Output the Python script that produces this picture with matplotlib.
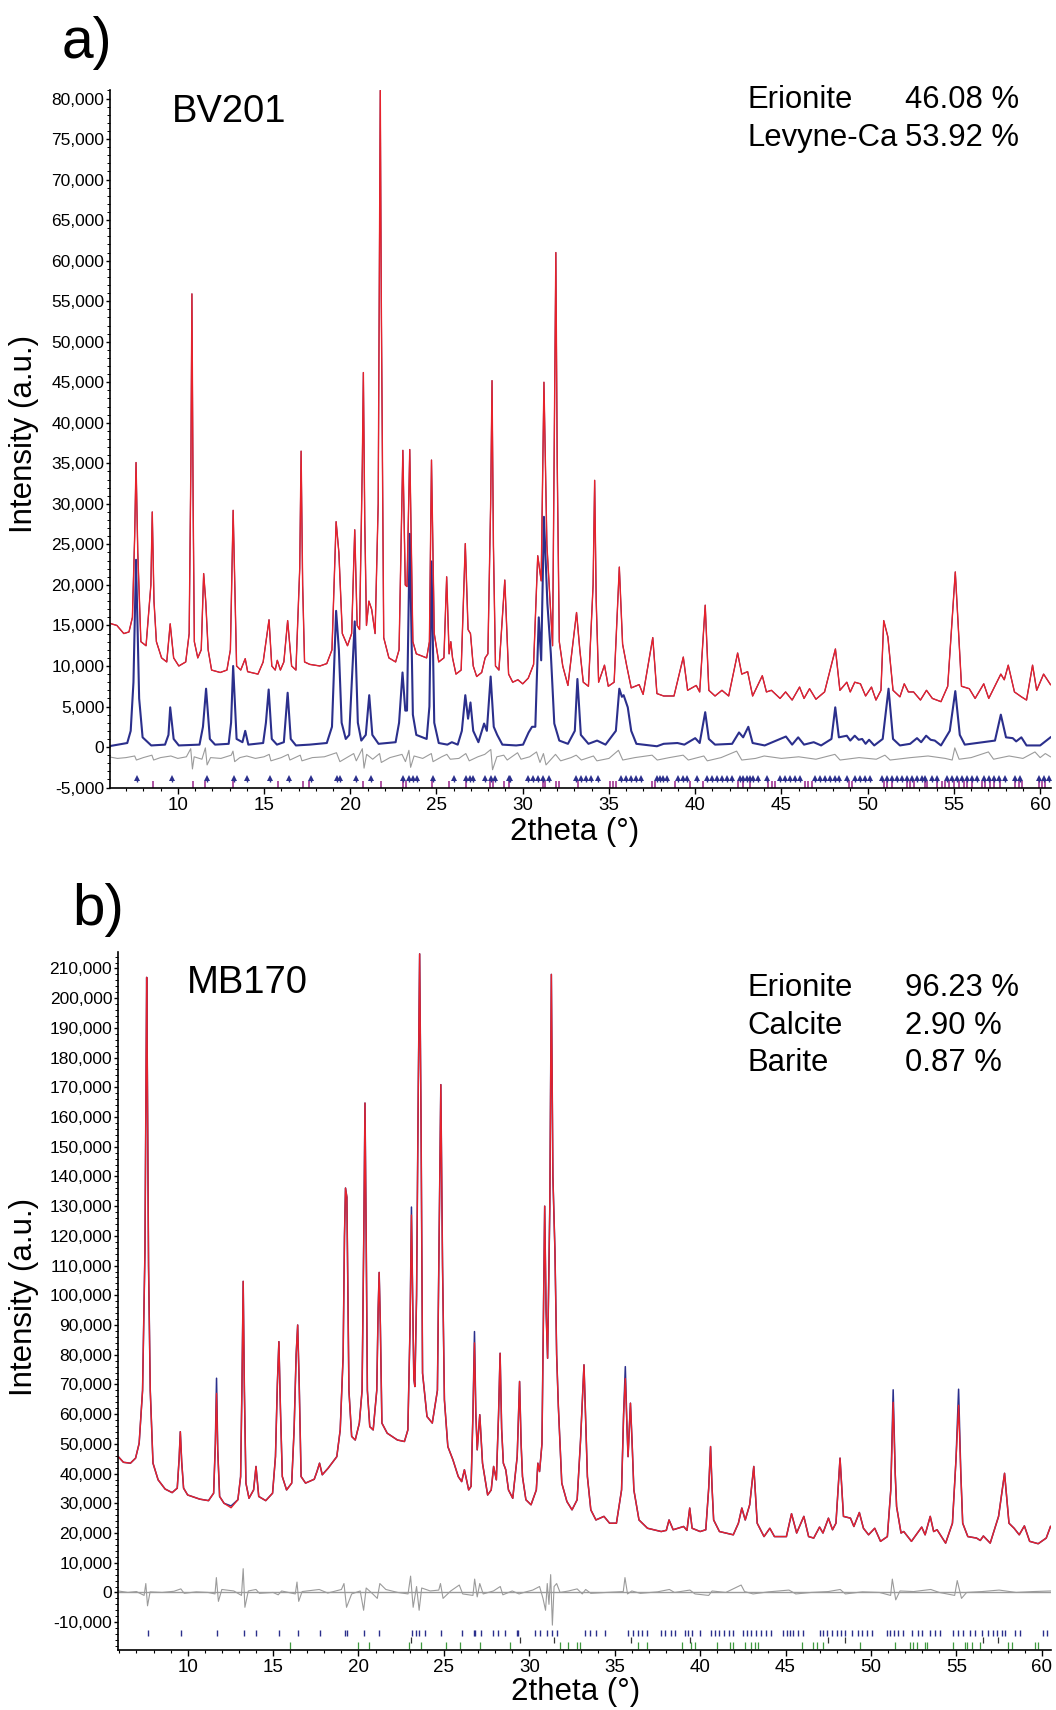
# Rietveld plots for BV201 (a) and MB170 (b)

import matplotlib.pyplot as plt
import numpy as np
from matplotlib.ticker import MultipleLocator, FuncFormatter

plt.rcParams['font.family'] = ['Liberation Sans', 'DejaVu Sans']

# ---- panel a) BV201, intensities in thousands ----
a_fit = [(6.00,15.3),(6.47,15.0),(6.87,14.0),(7.17,14.2),(7.37,16.0),(7.50,26.0),(7.58,35.1),(7.68,24.0),(7.86,13.0),
         (8.16,12.5),(8.44,20.0),(8.52,29.0),(8.62,18.0),(8.76,13.0),(9.06,11.0),(9.36,10.5),(9.56,15.2),(9.76,11.0),
         (10.06,10.0),(10.46,10.5),(10.66,14.0),(10.76,35.0),(10.82,55.9),(10.89,30.0),(10.96,13.0),(11.16,11.0),
         (11.36,12.0),(11.50,21.4),(11.62,18.0),(11.76,12.0),(11.96,9.5),(12.46,9.2),(12.85,9.5),(13.05,12.0),
         (13.21,29.2),(13.41,10.0),(13.65,9.5),(13.91,10.9),(14.05,9.3),(14.65,9.0),(14.95,10.5),(15.29,15.7),
         (15.45,10.0),(15.65,9.5),(15.77,10.7),(15.95,9.5),(16.15,10.5),(16.37,15.6),(16.60,10.0),(16.85,9.5),
         (17.07,22.0),(17.15,36.5),(17.24,20.0),(17.35,10.5),(17.65,10.2),(18.24,10.0),(18.64,10.3),(18.94,12.0),
         (19.18,27.8),(19.34,24.0),(19.54,14.0),(19.84,12.5),(20.08,14.0),(20.26,26.8),(20.40,15.0),(20.54,14.5),
         (20.70,35.0),(20.76,46.2),(20.84,28.0),(20.94,15.0),(21.08,18.0),(21.24,17.0),(21.44,14.0),(21.62,30.0),
         (21.70,65.0),(21.74,81.0),(21.80,55.0),(21.94,13.5),(22.24,11.0),(22.63,10.5),(22.83,12.0),(23.05,36.6),
         (23.19,20.0),(23.29,19.8),(23.45,36.7),(23.63,13.0),(23.83,11.5),(24.43,11.0),(24.59,13.0),(24.71,35.4),
         (24.87,14.0),(25.13,10.5),(25.43,11.0),(25.59,21.0),(25.73,11.5),(25.83,13.0),(25.93,11.0),(26.13,9.0),
         (26.43,9.5),(26.67,25.1),(26.83,14.5),(26.97,14.0),(27.13,10.0),(27.33,8.7),(27.62,9.2),(27.82,11.0),
         (27.98,11.5),(28.14,30.0),(28.22,45.2),(28.30,25.0),(28.42,10.0),(28.62,9.5),(28.96,20.6),(29.18,9.0),
         (29.42,8.0),(29.72,8.3),(30.00,7.8),(30.32,8.5),(30.63,10.2),(30.87,23.6),(31.07,20.5),(31.23,45.0),
         (31.40,25.0),(31.73,12.5),(31.84,40.0),(31.92,61.0),(32.00,35.0),(32.12,13.0),(32.32,10.0),(32.62,7.6),
         (33.12,16.6),(33.31,12.0),(33.51,8.0),(33.81,7.5),(34.08,20.0),(34.17,32.9),(34.26,18.0),(34.40,8.0),
         (34.74,10.1),(34.96,7.5),(35.30,8.0),(35.60,22.2),(35.79,12.7),(36.03,10.0),(36.29,7.3),(36.75,7.7),
         (36.98,6.5),(37.54,13.5),(37.78,6.6),(38.17,6.3),(38.77,6.3),(39.31,11.1),(39.56,7.0),(40.06,7.6),
         (40.26,6.8),(40.58,17.5),(40.79,7.0),(41.15,6.3),(41.55,7.0),(41.94,6.3),(42.46,11.6),(42.70,9.0),
         (43.04,9.3),(43.33,6.3),(43.89,8.8),(44.13,6.8),(44.42,7.0),(44.92,6.0),(45.24,6.8),(45.62,5.8),
         (46.05,7.4),(46.31,6.0),(46.63,7.2),(47.00,5.9),(47.50,6.8),(48.13,12.1),(48.39,7.0),(48.79,8.0),
         (48.99,6.8),(49.25,8.0),(49.58,7.8),(49.88,6.3),(50.22,7.4),(50.48,5.8),(50.77,7.0),(50.93,15.6),
         (51.17,13.6),(51.47,7.0),(51.87,6.2),(52.12,7.8),(52.36,6.8),(52.66,6.8),(53.06,5.8),(53.41,7.0),
         (53.75,6.0),(54.25,5.6),(54.64,7.5),(55.08,21.6),(55.44,7.5),(55.89,7.2),(56.23,6.0),(56.73,7.8),
         (57.02,6.0),(57.72,9.0),(57.92,8.3),(58.15,10.1),(58.51,6.8),(58.91,6.2),(59.21,5.8),(59.56,10.1),
         (59.80,7.0),(60.20,9.0),(60.60,7.7)]

a_phase = [(6.00,0.1),(7.07,0.5),(7.27,2.0),(7.43,8.0),(7.58,23.1),(7.76,6.0),(7.96,1.2),(8.46,0.2),(9.26,0.3),
           (9.46,1.5),(9.56,4.9),(9.76,1.0),(10.06,0.2),(11.26,0.3),(11.46,2.5),(11.64,7.2),(11.86,1.0),(12.16,0.3),
           (12.95,0.4),(13.09,3.0),(13.21,10.0),(13.41,1.0),(13.75,0.6),(13.91,2.0),(14.09,0.3),(14.95,0.5),
           (15.11,3.0),(15.27,7.1),(15.45,1.0),(15.75,0.3),(16.15,0.6),(16.37,6.7),(16.55,1.0),(16.85,0.2),
           (17.64,0.3),(18.64,0.5),(18.94,2.5),(19.18,16.8),(19.34,12.0),(19.50,3.0),(19.74,1.0),(19.94,1.5),
           (20.26,15.5),(20.44,3.0),(20.64,0.8),(20.90,1.5),(21.10,6.4),(21.28,1.5),(21.64,0.4),(22.63,0.6),
           (22.83,3.0),(23.03,9.2),(23.19,4.5),(23.29,4.5),(23.45,26.3),(23.63,4.0),(23.83,1.5),(24.43,1.0),
           (24.59,5.0),(24.71,22.9),(24.87,3.0),(25.13,0.5),(25.63,0.3),(25.89,0.6),(26.23,0.3),(26.47,2.0),
           (26.67,6.4),(26.83,3.5),(26.97,5.5),(27.13,2.0),(27.43,0.6),(27.76,2.9),(27.92,2.0),(28.14,8.7),
           (28.32,2.5),(28.52,1.5),(28.82,0.3),(29.62,0.2),(30.02,0.3),(30.34,1.8),(30.54,2.5),(30.73,2.5),
           (30.93,16.0),(31.07,10.7),(31.23,28.4),(31.43,17.7),(31.63,11.5),(31.83,2.9),(32.12,0.8),(32.62,0.4),
           (33.02,2.0),(33.17,8.4),(33.37,1.5),(33.81,0.4),(34.31,0.8),(34.80,0.3),(35.40,2.0),(35.60,7.2),
           (35.75,6.2),(35.85,6.4),(36.09,4.9),(36.29,2.0),(36.59,0.4),(37.78,0.1),(38.17,0.4),(38.97,0.5),
           (39.37,0.3),(40.00,1.1),(40.26,0.5),(40.58,4.3),(40.79,1.0),(41.15,0.3),(42.14,0.4),(42.54,1.8),
           (42.78,1.2),(43.08,2.5),(43.33,0.5),(44.03,0.2),(45.26,1.3),(45.62,0.3),(45.97,1.2),(46.31,0.3),
           (46.87,0.6),(47.30,0.2),(47.90,1.0),(48.12,4.9),(48.33,1.2),(48.79,1.4),(48.99,0.8),(49.25,1.4),
           (49.48,0.9),(49.68,1.0),(49.88,0.4),(50.08,0.9),(50.38,0.2),(50.87,1.0),(51.21,7.2),(51.47,1.0),
           (51.87,0.2),(52.46,0.4),(52.86,1.1),(53.10,0.6),(53.39,1.4),(53.65,0.9),(53.89,0.8),(54.25,0.2),
           (54.76,2.0),(55.08,6.9),(55.34,1.5),(55.63,0.3),(57.38,0.8),(57.72,4.0),(58.02,1.2),(58.41,1.1),
           (58.61,0.7),(58.91,1.2),(59.21,0.2),(60.00,0.2),(60.60,1.2)]

a_diff = [(6.0,-1.2),(6.5,-1.4),(7.0,-1.3),(7.5,-1.1),(7.6,-1.6),(8.0,-1.3),(8.5,-1.0),(8.6,-1.6),(9.0,-1.3),
          (9.6,-1.1),(10.0,-1.4),(10.5,-1.2),(10.75,-0.2),(10.85,-2.7),(10.95,-1.2),(11.4,-1.5),(11.6,-0.1),
          (11.7,-2.2),(11.9,-1.3),(12.5,-1.4),(13.1,-1.0),(13.2,-0.5),(13.3,-1.8),(13.6,-1.3),(14.0,-1.1),
          (14.5,-1.4),(15.0,-1.2),(15.3,-0.9),(15.4,-1.7),(16.0,-1.3),(16.4,-0.9),(16.5,-1.6),(17.1,-1.0),
          (17.2,-1.7),(17.8,-1.3),(18.5,-1.2),(19.2,-0.7),(19.4,-1.8),(19.8,-1.3),(20.2,-0.8),(20.35,-1.7),
          (20.7,-0.2),(20.8,-2.6),(20.95,-0.9),(21.3,-1.5),(21.7,-0.8),(21.8,-1.9),(22.3,-1.3),(23.0,-0.9),
          (23.2,-1.8),(23.4,-0.4),(23.5,-2.5),(23.7,-1.1),(24.2,-1.4),(24.7,-0.8),(24.8,-1.8),(25.3,-1.2),
          (25.6,-0.9),(25.8,-1.5),(26.3,-1.4),(26.7,-0.8),(26.9,-1.7),(27.4,-1.2),(27.8,-0.9),(28.15,-0.3),
          (28.25,-2.8),(28.5,-1.2),(28.9,-1.0),(29.1,-1.6),(29.7,-0.7),(29.9,-1.5),(30.4,-1.2),(30.8,-0.6),
          (31.0,-1.9),(31.2,-0.8),(31.35,-2.2),(31.9,-0.9),(32.2,-1.7),(32.8,-1.3),(33.1,-1.0),(33.4,-1.6),
          (34.1,-1.1),(34.3,-1.7),(35.0,-1.4),(35.55,-0.4),(35.8,-1.6),(36.5,-1.3),(37.5,-1.0),(37.8,-1.6),
          (38.5,-1.3),(39.3,-1.0),(39.6,-1.6),(40.5,-1.1),(40.7,-1.7),(41.5,-1.3),(42.4,-0.5),(42.7,-1.6),
          (43.5,-1.4),(44.0,-1.1),(45.0,-1.4),(46.0,-1.2),(47.0,-1.5),(48.1,-0.9),(48.4,-1.6),(49.5,-1.3),
          (50.5,-1.5),(51.0,-1.0),(51.3,-1.6),(52.5,-1.3),(53.5,-1.1),(54.5,-1.4),(54.9,-1.6),(55.05,-0.1),
          (55.3,-1.5),(56.0,-1.3),(57.0,-0.6),(57.3,-1.5),(58.2,-1.1),(59.0,-1.4),(59.7,-0.6),(60.0,-1.3),
          (60.3,-0.8),(60.6,-1.2)]

a_erionite_pos = [7.66, 9.66, 11.70, 13.27, 14.01, 15.35, 16.45, 17.74, 19.24, 19.38, 20.34, 21.18, 23.07, 23.39,
                  23.63, 23.89, 24.79, 25.99, 26.69, 26.97, 27.09, 27.82, 28.18, 28.42, 29.18, 29.28, 30.28, 30.58,
                  30.90, 31.20, 31.50, 33.10, 33.40, 33.69, 33.98, 34.37, 35.72, 36.01, 36.30, 36.59, 36.88, 37.76,
                  37.95, 38.14, 38.34, 39.01, 39.30, 39.50, 40.08, 40.66, 40.95, 41.24, 41.53, 41.82, 42.11, 42.60,
                  42.79, 42.98, 43.18, 43.37, 43.66, 44.14, 44.92, 45.21, 45.50, 45.79, 46.08, 46.95, 47.24, 47.53,
                  47.82, 48.11, 48.31, 48.79, 49.28, 49.57, 49.86, 50.15, 50.82, 51.11, 51.40, 51.70, 51.99, 52.28,
                  52.57, 52.86, 53.15, 53.34, 53.73, 54.02, 54.60, 54.89, 55.18, 55.47, 55.76, 56.05, 56.34, 56.73,
                  57.02, 57.31, 57.60, 57.99, 58.57, 58.86, 59.92, 60.21, 60.50]
a_levyne_pos = [8.56, 10.86, 11.55, 13.21, 15.81, 17.25, 17.60, 20.74, 21.80, 23.03, 23.23, 24.75, 25.70, 26.70,
                28.12, 28.26, 28.92, 29.18, 31.20, 31.32, 31.90, 32.10, 33.21, 35.05, 35.24, 35.43, 37.47, 37.66,
                38.82, 39.69, 40.47, 42.50, 42.79, 43.18, 44.24, 44.44, 44.63, 46.37, 46.56, 46.76, 48.89, 49.08,
                50.92, 51.11, 51.40, 52.28, 52.47, 52.67, 53.34, 53.44, 54.02, 54.31, 54.50, 54.70, 54.99, 55.28,
                55.57, 55.76, 56.05, 56.63, 56.83, 57.12, 57.31, 57.70, 58.57, 58.76, 58.96, 59.92, 60.12, 60.31]

# ---- panel b) MB170, intensities in thousands ----
b_obs = [(5.94,45.7),(6.24,43.8),(6.65,43.5),(6.95,45.2),(7.16,50.2),(7.36,68),(7.50,115),(7.57,180),(7.60,207),
         (7.64,175),(7.71,110),(7.81,68),(7.97,43.5),(8.27,37.9),(8.68,34.8),(9.09,33.6),(9.39,35.1),(9.50,45),
         (9.57,54.1),(9.65,44),(9.76,35.1),(10.00,32.8),(10.71,31.4),(11.22,30.9),(11.52,33.4),(11.62,50),
         (11.69,72.1),(11.76,48),(11.87,32.3),(12.13,30.0),(12.54,29.1),(12.94,31.2),(13.10,39),(13.18,70),
         (13.25,104.7),(13.32,68),(13.41,36.8),(13.59,31.7),(13.86,34.5),(14.00,42.4),(14.16,32.3),(14.57,30.9),
         (14.97,33.4),(15.14,45.7),(15.25,70),(15.34,84.4),(15.43,62),(15.54,39),(15.79,34.5),(16.09,36.8),
         (16.23,54.7),(16.35,80),(16.44,90),(16.53,70),(16.64,39),(16.90,36.8),(17.41,38.1),(17.57,40.7),
         (17.72,43.5),(17.88,39.6),(18.22,41.8),(18.73,45.7),(18.93,54.7),(19.10,79.4),(19.18,120),(19.24,136.1),
         (19.32,133),(19.38,100),(19.44,68),(19.60,52.5),(19.81,51.3),(20.05,57.0),(20.21,68),(20.31,120),
         (20.38,164.7),(20.45,120),(20.52,68),(20.66,55.8),(20.86,54.7),(21.07,68),(21.15,95),(21.21,107.7),
         (21.28,90),(21.37,57),(21.68,53.6),(22.28,51.3),(22.69,50.8),(22.89,54.7),(23.02,90),(23.10,129.7),
         (23.18,95),(23.24,72),(23.30,69.3),(23.40,100),(23.50,170),(23.58,214.9),(23.66,160),(23.75,73.8),
         (24.01,59.2),(24.32,57),(24.62,68),(24.72,120),(24.82,170.9),(24.92,110),(25.03,64.8),(25.23,49.1),
         (25.53,44.6),(25.84,39),(26.04,37.3),(26.20,41.3),(26.45,34.5),(26.59,35.7),(26.70,60),(26.79,87.8),
         (26.87,60),(26.95,48),(27.10,59.8),(27.26,43.5),(27.56,32.8),(27.77,34.5),(27.91,42.4),(28.07,37.9),
         (28.20,60),(28.29,80.5),(28.38,55),(28.48,43.5),(28.62,41.3),(28.78,34.5),(29.03,31.7),(29.29,45.7),
         (29.43,71.0),(29.52,50),(29.60,39),(29.80,31.2),(30.10,29.5),(30.41,34.5),(30.50,43.5),(30.60,40.7),
         (30.74,50),(30.84,100),(30.90,130),(30.98,95),(31.07,78.8),(31.20,130),(31.29,208),(31.38,140),
         (31.44,127),(31.50,115),(31.60,80),(31.70,62.6),(31.90,36.8),(32.20,30.6),(32.50,27.8),(32.80,31.2),
         (33.00,51.3),(33.20,76.6),(33.40,39),(33.60,27.8),(33.90,24.4),(34.37,25.6),(34.70,23.3),(35.10,23.3),
         (35.40,34.5),(35.52,60),(35.62,76),(35.72,55),(35.78,45.7),(35.92,63.7),(36.02,50),(36.12,34.5),
         (36.42,24.4),(36.92,21.6),(37.72,20.5),(38.02,20.9),(38.18,24.4),(38.42,21.1),(39.03,22.2),(39.23,20.9),
         (39.39,28.4),(39.53,21.6),(40.00,20.5),(40.33,21.1),(40.50,35),(40.61,49.1),(40.70,35),(40.79,24.4),
         (41.13,20.5),(41.94,19.4),(42.24,23.3),(42.44,28.4),(42.64,24.4),(42.90,29.5),(43.14,42.4),(43.34,23.3),
         (43.74,18.8),(44.08,21.6),(44.35,18.8),(45.05,18.8),(45.35,26.5),(45.65,20.0),(46.07,25.6),(46.35,18.8),
         (46.65,18.3),(46.99,22.0),(47.19,20.0),(47.51,25.0),(47.75,21.1),(47.95,23.3),(48.19,45.2),(48.39,25.6),
         (48.80,25.0),(49.00,22.2),(49.32,26.9),(49.56,21.6),(49.86,19.4),(50.22,21.6),(50.56,17.2),(50.96,18.8),
         (51.16,34.5),(51.30,68.2),(51.42,40),(51.50,28.9),(51.76,20.0),(51.92,20.5),(52.37,17.2),(52.97,22.0),
         (53.17,19.4),(53.47,25.6),(53.67,20.5),(53.87,21.1),(54.37,16.6),(54.77,23.3),(54.98,45),(55.13,68.4),
         (55.26,40),(55.37,23.3),(55.67,18.8),(56.18,18.3),(56.40,17.5),(56.58,19.0),(56.98,16.6),(57.47,25.6),
         (57.82,40.1),(58.08,23.3),(58.38,21.6),(58.68,19.4),(58.98,22.4),(59.29,17.2),(59.79,16.4),(60.26,18.3),
         (60.51,22.2)]
# calculated profile where it sits below the observed one
b_calc_low = {11.69: 67.0, 12.54: 28.5, 23.10: 127.0, 26.79: 84.0, 35.62: 72.0, 51.30: 64.0, 55.13: 63.0}

b_diff = [(5.94,0.5),(6.5,0.0),(7.0,0.3),(7.45,-1.0),(7.55,3.0),(7.65,-4.5),(7.8,0.2),(8.5,0.0),(9.2,0.4),
          (9.6,1.2),(9.8,-0.3),(10.5,0.2),(11.2,0.0),(11.6,-0.5),(11.68,5.0),(11.8,-3.0),(12.0,1.0),(12.7,0.5),
          (13.15,-1.0),(13.25,8.0),(13.35,-5.0),(13.55,0.5),(14.0,1.0),(14.2,-0.3),(15.0,0.0),(15.3,-0.8),
          (15.5,0.5),(16.3,-0.5),(16.4,3.5),(16.5,-3.0),(16.7,0.3),(17.7,1.0),(18.2,-0.2),(19.0,1.0),(19.15,3.0),
          (19.3,-5.0),(19.6,-0.5),(20.1,0.5),(20.3,-6.0),(20.45,1.5),(20.8,-0.3),(21.1,-2.0),(21.25,3.0),
          (21.6,1.0),(22.3,0.0),(22.9,-0.5),(23.05,5.5),(23.2,-5.0),(23.4,2.0),(23.55,-6.0),(23.7,1.5),(24.2,0.5),
          (24.7,0.8),(24.8,3.0),(24.95,-2.0),(25.4,0.5),(25.9,2.5),(26.1,-0.5),(26.7,-1.0),(26.8,4.5),
          (26.95,-1.5),(27.1,3.0),(27.3,-0.5),(27.9,0.5),(28.3,2.0),(28.45,-0.8),(29.0,0.5),(29.4,-0.5),
          (29.8,0.2),(30.2,0.8),(30.6,2.0),(30.8,-2.0),(30.95,-6.0),(31.05,3.0),(31.15,-4.0),(31.25,6.0),
          (31.35,-11.0),(31.45,2.0),(31.6,3.0),(31.8,0.0),(32.3,0.5),(32.8,1.2),(33.1,-0.5),(33.3,1.0),
          (33.6,-0.3),(34.5,0.0),(35.5,0.3),(35.6,5.0),(35.75,-0.5),(36.0,0.5),(36.5,-0.3),(37.5,0.2),(38.2,1.0),
          (38.5,0.0),(39.4,0.8),(39.7,-0.5),(40.5,-1.0),(40.7,0.5),(41.5,0.0),(42.4,2.5),(42.6,0.3),(43.1,-0.5),
          (44.0,0.2),(45.2,0.8),(45.6,-0.5),(46.5,0.0),(47.5,0.3),(48.2,1.0),(48.5,-0.5),(49.5,0.2),(50.5,0.0),
          (51.15,-1.0),(51.25,4.5),(51.45,-2.5),(51.7,0.5),(52.5,0.3),(53.5,1.0),(54.0,0.0),(54.9,-1.0),
          (55.05,4.0),(55.3,-2.0),(55.6,0.0),(56.5,0.3),(57.5,0.8),(58.5,0.0),(59.5,0.3),(60.51,0.5)]

b_erionite_pos = [7.65, 9.63, 11.72, 13.29, 14.01, 15.35, 16.48, 17.76, 19.22, 19.32, 20.34, 21.22, 23.12, 23.38,
                  23.57, 23.87, 24.85, 26.06, 26.75, 26.84, 27.16, 27.88, 28.17, 28.57, 29.25, 29.31, 30.33, 30.62,
                  31.01, 31.31, 31.60, 33.24, 33.54, 33.93, 34.41, 35.78, 36.07, 36.37, 36.60, 36.91, 37.73, 37.97,
                  38.32, 38.52, 39.10, 39.30, 39.53, 40.02, 40.63, 40.86, 41.11, 41.41, 41.68, 41.93, 42.52, 42.77,
                  43.00, 43.26, 43.54, 43.83, 44.14, 44.86, 45.06, 45.25, 45.45, 45.74, 46.04, 47.01, 47.21, 47.40,
                  47.70, 47.99, 48.24, 48.48, 48.87, 49.26, 49.45, 49.75, 50.04, 50.92, 51.11, 51.37, 51.60, 51.89,
                  52.38, 52.77, 52.97, 53.46, 53.75, 54.04, 54.82, 55.12, 55.41, 55.80, 56.09, 56.48, 56.88, 57.17,
                  57.36, 57.66, 57.85, 58.44, 58.73, 60.10, 60.29]
b_barite_pos = [23.08, 29.45, 31.46, 35.98, 39.39, 47.50, 48.48, 56.58, 57.46]
b_calcite_pos = [15.97, 19.99, 20.63, 22.93, 23.63, 25.10, 25.92, 27.14, 28.86, 31.80, 32.29, 32.78, 32.95, 36.37,
                 36.86, 38.91, 39.49, 39.69, 40.96, 41.74, 41.93, 42.62, 43.00, 43.20, 43.40, 45.94, 46.62, 46.82,
                 47.21, 49.36, 51.41, 52.29, 52.48, 52.68, 53.16, 53.26, 54.82, 55.51, 55.61, 55.90, 56.39, 58.05,
                 58.24, 59.61, 59.80]

a_phases = ["Erionite", "Levyne-Ca"]
a_wt = ["46.08 %", "53.92 %"]
b_phases = ["Erionite", "Calcite", "Barite"]
b_wt = ["96.23 %", "2.90 %", "0.87 %"]

BLUE = '#2b2f8c'
RED = '#e8222b'
GREY = '#9b9b9b'
MAGENTA = '#a8479c'
GREEN = '#3f9a3f'

W, H = 1056, 1710


def xy(pts):
    x, y = zip(*pts)
    return np.array(x), np.array(y) * 1000


def style(ax, ymajor, yminor):
    for s in ['top', 'right']:
        ax.spines[s].set_visible(False)
    for s in ['left', 'bottom']:
        ax.spines[s].set_linewidth(1.2)
    ax.xaxis.set_major_locator(MultipleLocator(5))
    ax.xaxis.set_minor_locator(MultipleLocator(1))
    ax.yaxis.set_major_locator(MultipleLocator(ymajor))
    ax.yaxis.set_minor_locator(MultipleLocator(yminor))
    ax.yaxis.set_major_formatter(FuncFormatter(lambda v, p: f"{int(round(v)):,}"))
    ax.tick_params(axis='x', which='major', length=4, width=1, labelsize=13.5, pad=3)
    ax.tick_params(axis='x', which='minor', length=2, width=0.8)
    ax.tick_params(axis='y', which='major', length=3, width=1, labelsize=12.5, pad=1)
    ax.tick_params(axis='y', which='minor', length=2, width=0.7)


fig = plt.figure(figsize=(W / 100, H / 100), dpi=100)

# ---------------- a) ----------------
ax1 = fig.add_axes([110 / W, 1 - 787.6 / H, 940.5 / W, 697.2 / H])
x, y = xy(a_phase)
ax1.plot(x, y, color=BLUE, lw=1.5)
x, y = xy(a_diff)
ax1.plot(x, y, color=GREY, lw=0.8)
x, y = xy(a_fit)
ax1.plot(x, y, color=BLUE, lw=0.8)
ax1.plot(x, y, color=RED, lw=1.0)
ax1.vlines(a_levyne_pos, -5000, -4200, color=MAGENTA, lw=1.3)
ax1.vlines(a_erionite_pos, -4300, -3850, color=BLUE, lw=1.0)
ax1.plot(a_erionite_pos, [-3800] * len(a_erionite_pos), '^', color=BLUE, ms=5, mew=0)
ax1.set_xlim(6.07, 60.6)
ax1.set_ylim(-5000, 81000)
style(ax1, 5000, 1000)

# ---------------- b) ----------------
ax2 = fig.add_axes([117.8 / W, 1 - 1649.5 / H, 932.7 / W, 697.1 / H])
ax2.axhline(0, color=GREY, lw=1.0)
x, y = xy(b_diff)
ax2.plot(x, y, color=GREY, lw=0.8)
x, y = xy(b_obs)
ax2.plot(x, y, color=BLUE, lw=1.1)
y_calc = np.array([b_calc_low.get(v, w / 1000) for v, w in zip(x, y)]) * 1000
ax2.plot(x, y_calc, color=RED, lw=1.0)
ax2.vlines(b_erionite_pos, -14700, -12700, color=BLUE, lw=1.0)
ax2.vlines(b_barite_pos, -17000, -14900, color='#333333', lw=0.9)
ax2.vlines(b_calcite_pos, -19000, -16800, color=GREEN, lw=0.9)
ax2.set_xlim(5.91, 60.51)
ax2.set_ylim(-19200, 215400)
style(ax2, 10000, 2000)

# ---------------- texts ----------------
def put(xp, yp, s, **kw):
    fig.text(xp / W, 1 - yp / H, s, **kw)

put(62, 58, "a)", fontsize=41, va='baseline')
put(72, 925, "b)", fontsize=42, va='baseline')
put(172, 122, "BV201", fontsize=27.5, va='baseline')
put(187, 993, "MB170", fontsize=27.5, va='baseline')

for i, (n, v) in enumerate(zip(a_phases, a_wt)):
    put(747, 108.3 + i * 37.7, n, fontsize=22.3, va='baseline')
    put(905, 108.3 + i * 37.7, v, fontsize=22.3, va='baseline')
for i, (n, v) in enumerate(zip(b_phases, b_wt)):
    put(747, 996 + i * 37.5, n, fontsize=22.3, va='baseline')
    put(905, 996 + i * 37.5, v, fontsize=22.3, va='baseline')

put(24, 434, "Intensity (a.u.)", fontsize=22.5, rotation=90, ha='center', va='center')
put(24, 1297, "Intensity (a.u.)", fontsize=22.5, rotation=90, ha='center', va='center')
put(575, 840, "2theta (°)", fontsize=22.5, ha='center', va='baseline')
put(576, 1700, "2theta (°)", fontsize=22.5, ha='center', va='baseline')

plt.savefig("out.png", dpi=100)
